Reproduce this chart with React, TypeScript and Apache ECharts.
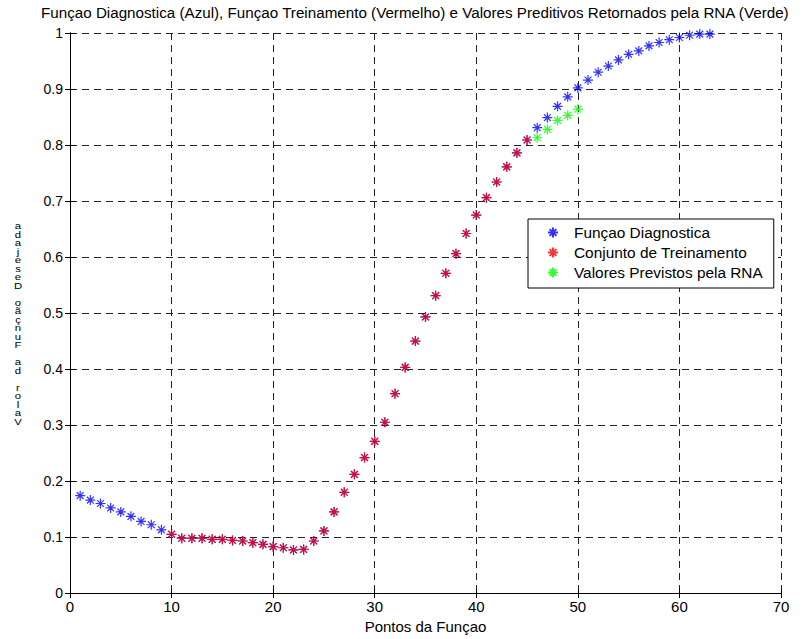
import React, { useEffect, useRef } from "react";
import * as echarts from "echarts";

// Pontos 1..63 da função diagnóstica (azul)
const diagX = Array.from({ length: 63 }, (_, i) => i + 1);
const diagY = [
  0.174, 0.166, 0.16, 0.152, 0.145, 0.137, 0.128, 0.122, 0.113, 0.105,
  0.098, 0.098, 0.098, 0.096, 0.096, 0.094, 0.093, 0.09, 0.087, 0.083,
  0.081, 0.077, 0.078, 0.093, 0.111, 0.145, 0.18, 0.212, 0.242, 0.271,
  0.305, 0.356, 0.403, 0.45, 0.493, 0.531, 0.571, 0.606, 0.642, 0.675,
  0.706, 0.734, 0.761, 0.786, 0.809, 0.831, 0.849, 0.869, 0.886, 0.902,
  0.916, 0.93, 0.941, 0.952, 0.962, 0.968, 0.977, 0.983, 0.988, 0.992,
  0.996, 0.998, 0.998,
];

// Conjunto de treinamento (vermelho): pontos 10..45
const trainX = Array.from({ length: 36 }, (_, i) => i + 10);
const trainY = diagY.slice(9, 45);

// Valores previstos pela RNA (verde): pontos 46..50
const predX = [46, 47, 48, 49, 50];
const predY = [0.813, 0.828, 0.844, 0.853, 0.864];

const xTicks = [0, 10, 20, 30, 40, 50, 60, 70];

const titleText =
  "Funçao Diagnostica (Azul), Funçao Treinamento (Vermelho) e Valores Preditivos Retornados pela RNA (Verde)";
const xName = "Pontos da Funçao";
const yName = "Valor da Função Desejada";
const legendNames = [
  "Funçao Diagnostica",
  "Conjunto de Treinamento",
  "Valores Previstos pela RNA",
];

const STAR = "path://M0,5L10,5M5,0L5,10M1.6,1.6L8.4,8.4M8.4,1.6L1.6,8.4";
const ARIAL = "'Liberation Sans', Arial, sans-serif";

const pairs = (xs: number[], ys: number[]) => xs.map((x, i) => [x, ys[i]]);

const starSeries = (name: string, data: number[][], color: string) => ({
  type: "scatter",
  name,
  data,
  symbol: STAR,
  symbolSize: 10,
  itemStyle: { color: "rgba(0,0,0,0)", borderColor: color, borderWidth: 1.2 },
  emphasis: { disabled: true },
});

export default function App() {
  const ref = useRef<HTMLDivElement>(null);

  useEffect(() => {
    if (!ref.current) return;
    const chart = echarts.init(ref.current, undefined, { renderer: "svg" });
    const axisLine = { show: true, lineStyle: { color: "#000", width: 1 } };
    const tick = { show: true, inside: true, length: 5, lineStyle: { color: "#000" } };
    const gridLine = { show: true, lineStyle: { color: "#222", type: [7, 5], width: 1 } };
    chart.setOption({
      animation: false,
      backgroundColor: "#fff",
      title: {
        text: titleText,
        left: 41,
        top: 4,
        padding: 0,
        textStyle: { fontFamily: ARIAL, fontSize: 15.2, lineHeight: 17, fontWeight: "normal", color: "#000" },
      },
      grid: { left: 70, right: 28, top: 33, bottom: 45, containLabel: false },
      legend: {
        orient: "vertical",
        left: 528,
        top: 219,
        data: legendNames,
        backgroundColor: "#fff",
        borderColor: "#000",
        borderWidth: 1,
        borderRadius: 0,
        padding: [6, 11, 8, 19],
        itemWidth: 10,
        itemHeight: 10,
        itemGap: 5,
        selectedMode: false,
        textStyle: { fontFamily: ARIAL, fontSize: 15.4, color: "#000", padding: [0, 0, 0, 11] },
      },
      xAxis: [
        {
          type: "value",
          min: 0,
          max: 70,
          interval: 10,
          name: xName,
          nameLocation: "middle",
          nameGap: 23,
          nameTextStyle: { fontFamily: ARIAL, fontSize: 15, color: "#000" },
          axisLine,
          axisTick: tick,
          axisLabel: {
            fontFamily: ARIAL,
            fontSize: 15,
            color: "#000",
            margin: 6,
            formatter: (v: number) => (xTicks.includes(v) ? String(v) : ""),
          },
          splitLine: gridLine,
        },
        {
          type: "value",
          position: "top",
          min: 0,
          max: 70,
          interval: 10,
          axisLine,
          axisTick: tick,
          axisLabel: { show: false },
          splitLine: { show: false },
        },
      ],
      yAxis: [
        {
          type: "value",
          min: 0,
          max: 1,
          interval: 0.1,
          axisLine,
          axisTick: tick,
          axisLabel: {
            fontFamily: ARIAL,
            fontSize: 14,
            color: "#000",
            margin: 7,
            formatter: (v: number) => String(+v.toFixed(1)),
          },
          splitLine: gridLine,
        },
        {
          type: "value",
          position: "right",
          min: 0,
          max: 1,
          interval: 0.1,
          axisLine,
          axisTick: tick,
          axisLabel: { show: false },
          splitLine: { show: false },
        },
      ],
      graphic: [
        {
          // rótulo do eixo y: caracteres empilhados, lidos de baixo para cima
          type: "text",
          x: 18,
          y: 222,
          scaleX: 1.35,
          style: {
            text: yName.split("").reverse().join("\n"),
            fontFamily: ARIAL,
            fontSize: 8.4,
            lineHeight: 8.5,
            fill: "#000",
            align: "center",
          },
        },
      ],
      series: [
        starSeries(legendNames[0], pairs(diagX, diagY), "#0000ff"),
        starSeries(legendNames[1], pairs(trainX, trainY), "#ff0000"),
        starSeries(legendNames[2], pairs(predX, predY), "#00ff00"),
      ],
    });
    return () => chart.dispose();
  }, []);

  return (
    <div
      ref={ref}
      style={{ position: "absolute", left: 0, top: 0, width: 809, height: 639 }}
    />
  );
}
